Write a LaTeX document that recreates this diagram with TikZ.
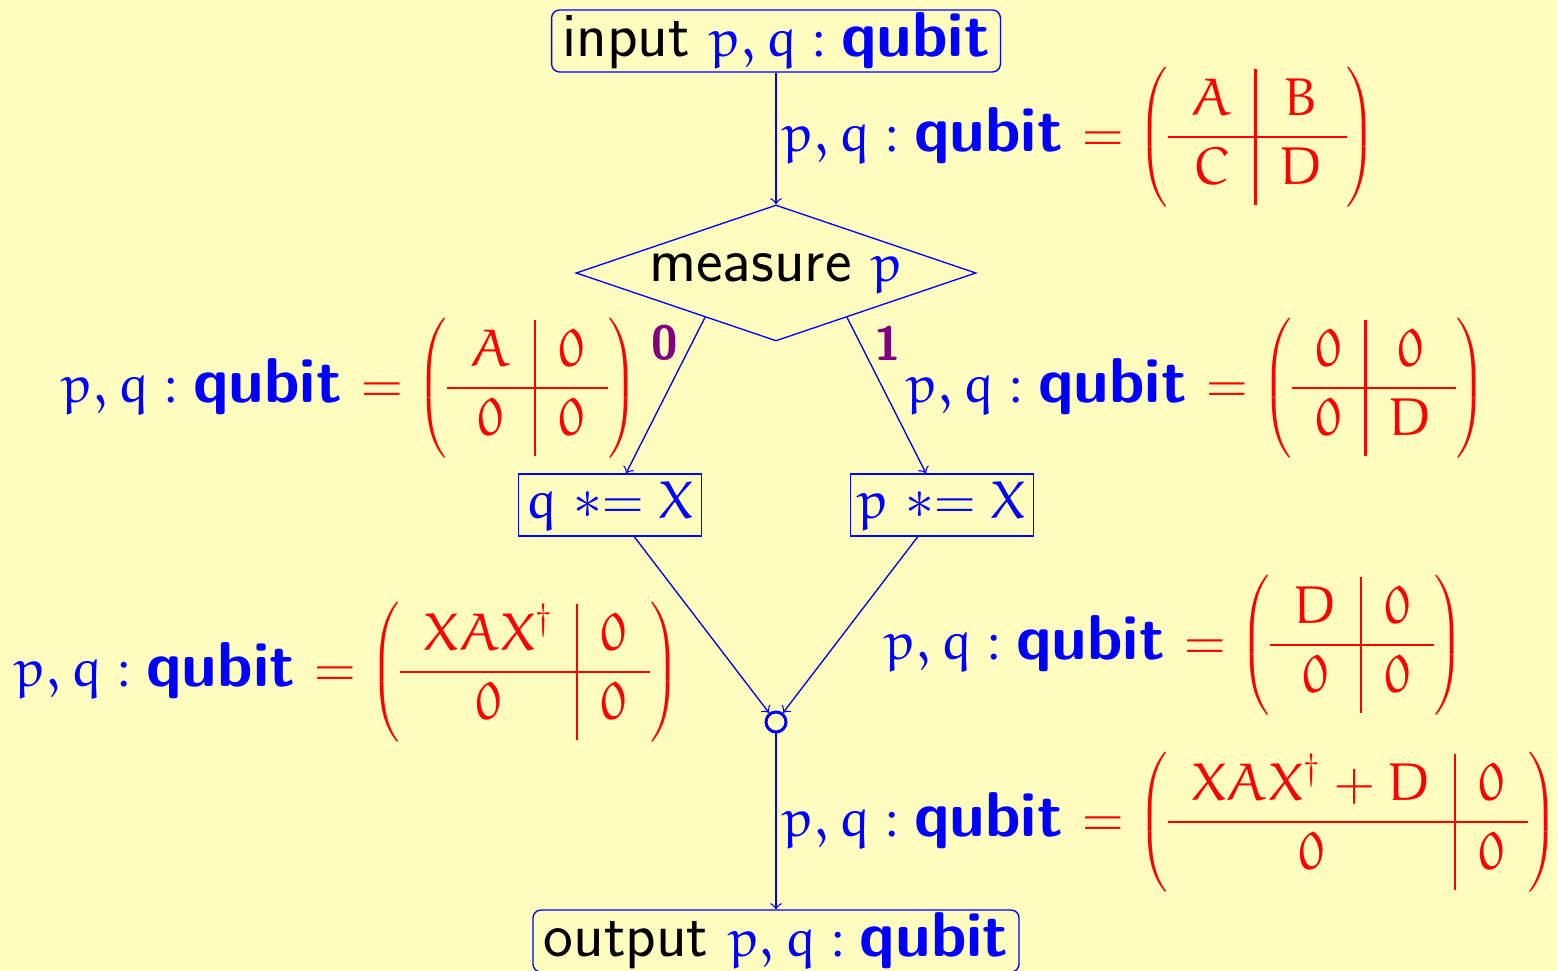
\documentclass[tikz,border=0pt]{standalone}
\usepackage{euler}
\usetikzlibrary{shapes.geometric,positioning}
\renewcommand\familydefault{\sfdefault}
% math set a little smaller than the sans text
\DeclareMathSizes{19}{16}{11}{8}
\definecolor{edgepurple}{RGB}{128,0,128}
\setlength\arraycolsep{7pt}
\setlength\arrayrulewidth{0.8pt}
\newcommand\blockmat[4]{\left(\begin{array}{c|c}#1 & #2\\\hline #3 & #4\end{array}\right)}
\newcommand\pqbit{\textcolor{blue}{$p,q:\textbf{qubit}$}}
\newcommand\pqstate[4]{\pqbit\ \textcolor{red}{$=\blockmat{#1}{#2}{#3}{#4}$}}
\begin{document}
\begin{tikzpicture}[
  x=0.3pt, y=-0.3pt,
  every node/.style={font=\fontsize{19}{20}\selectfont, inner sep=0pt},
  io/.style={draw=blue, rounded corners=2.4pt, inner xsep=3.2pt, inner ysep=0.6pt, minimum height=18.6pt},
  stepbox/.style={draw=blue, inner xsep=2.2pt, inner ysep=0.6pt, minimum height=18.6pt},
  test/.style={draw=blue, diamond, aspect=2.94, inner sep=0pt, minimum width=120pt, minimum height=40.8pt},
  merge/.style={draw=blue, circle, line width=0.9pt, minimum size=6pt, inner sep=0pt},
  flow/.style={draw=blue, ->},
  branch/.style={font=\Large\bfseries, text=edgepurple}
]
\fill[yellow!25] (0,0) rectangle (1558,971);
\useasboundingbox (0,0) rectangle (1558,971);

% the flow chart
\node[io] (in) at (776,41) {input \pqbit};
\node[test] (decide) at (776,273) {measure \textcolor{blue}{$p$}};
\node[stepbox] (qx) at (610,505) {\textcolor{blue}{$q \mathrel{{\ast}{=}} X$}};
\node[stepbox] (px) at (942,505) {\textcolor{blue}{$p \mathrel{{\ast}{=}} X$}};
\node[merge] (join) at (776,722) {};
\node[io] (out) at (776,941) {output \pqbit};

\draw[flow] (in) -- (decide);
\draw[flow] (decide.-148) -- (qx);
\draw[flow] (decide.-32) -- (px);
\draw[flow] (qx) -- (join);
\draw[flow] (px) -- (join);
\draw[flow] (join) -- (out);

% branch values
\node[branch] (b0) at (665,343) {0};
\node[branch] (b1) at (888,343) {1};

% states along the edges
\node[anchor=west] (s1) at (782,137) {\pqstate{A}{B}{C}{D}};
\node[anchor=east] (s2) at (638,388) {\pqstate{A}{0}{0}{0}};
\node[anchor=west] (s3) at (906,388) {\pqstate{0}{0}{0}{D}};
\node[anchor=east] (s4) at (680,672) {\pqstate{XAX^\dagger}{0}{0}{0}};
\node[anchor=west] (s5) at (884,645) {\pqstate{D}{0}{0}{0}};
\node[anchor=west] (s6) at (782,822) {\pqstate{XAX^\dagger+D}{0}{0}{0}};
\end{tikzpicture}
\end{document}
